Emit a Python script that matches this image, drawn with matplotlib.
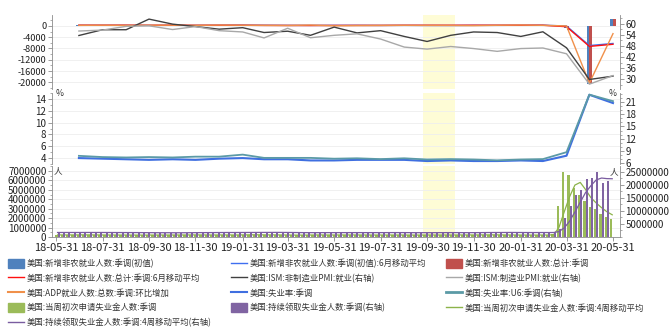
import numpy as np
import pandas as pd
import matplotlib
matplotlib.use("Agg")
import matplotlib.pyplot as plt
import matplotlib.dates as mdates
from matplotlib.patches import Patch
from matplotlib.lines import Line2D
from matplotlib.ticker import MultipleLocator, FixedLocator, FuncFormatter

plt.rcParams["font.family"] = ["Noto Sans CJK SC", "DejaVu Sans"]
plt.rcParams["axes.unicode_minus"] = False

# monthly data, 2018-06 .. 2020-05 (千人 / 指数 / %)
months = pd.date_range("2018-06-30", "2020-05-31", freq="ME")

nfp_initial = [213, 157, 201, 134, 250, 155, 312,
               304, 20, 196, 263, 75, 224, 164, 130, 136, 128, 266, 145,
               225, 273, -701, -20500, 2509]
nfp_total = [248, 178, 282, 108, 277, 176, 182,
             269, 1, 147, 210, 85, 182, 194, 207, 208, 185, 261, 184,
             214, 251, -1373, -20687, 2509]
nfp_initial_ma = [190, 205, 190, 164, 195, 180, 239,
                  257, 212, 173, 160, 178, 187, 154, 173, 143, 131, 177, 180,
                  212, 248, -68, -6976, -6231]
nfp_total_ma = [228, 216, 236, 189, 222, 187, 212,
                209, 151, 139, 119, 147, 159, 154, 194, 203, 200, 218, 210,
                220, 216, -303, -7270, -6517]
adp_change = [177, 219, 163, 230, 227, 179, 271,
              213, 183, 129, 275, 27, 102, 156, 195, 135, 125, 67, 202,
              291, 183, -27, -20236, -2760]
ism_nonmfg_emp = [53.6, 56.7, 56.7, 62.4, 59.7, 58.4, 57.0,
                  57.8, 55.2, 55.9, 53.7, 58.1, 55.0, 56.2, 53.1, 50.4, 53.7, 55.5, 55.2,
                  53.1, 55.6, 47.0, 30.0, 31.8]
ism_mfg_emp = [56.0, 56.5, 58.5, 58.8, 56.8, 58.4, 56.2,
               55.5, 52.3, 57.5, 52.4, 53.7, 54.5, 51.7, 47.4, 46.3, 47.7, 46.6, 45.1,
               46.6, 46.9, 43.8, 27.5, 32.1]
unemp_rate = [4.0, 3.9, 3.8, 3.7, 3.8, 3.7, 3.9,
              4.0, 3.8, 3.8, 3.6, 3.6, 3.7, 3.7, 3.7, 3.5, 3.6, 3.5, 3.5,
              3.6, 3.5, 4.4, 14.7, 13.3]
u6_rate = [7.8, 7.5, 7.4, 7.5, 7.4, 7.6, 7.6,
           8.1, 7.3, 7.3, 7.3, 7.1, 7.2, 7.0, 7.2, 6.9, 7.0, 6.9, 6.7,
           6.9, 7.0, 8.7, 22.8, 21.2]

# weekly data (千人), weeks ending 2018-06-02 .. 2020-05-30
initial_claims = [
    222, 218, 221, 227, 231, 232, 208, 217, 218, 213, 212, 210, 213, 203, 204, 201,
    207, 214, 209, 210, 215, 215, 214, 221, 224, 234, 225, 206, 214, 221, 231,
    216, 213, 199, 253, 234, 239, 225, 229, 223, 229, 221, 211, 202, 196, 192, 230,
    212, 228, 212, 211, 215, 218, 222, 216, 227, 217, 209, 216, 206, 215, 209, 220,
    209, 216, 204, 208, 210, 213, 219, 210, 214, 218, 217, 211, 227, 223, 213, 203,
    252, 234, 222, 224,
    214, 207, 223, 216, 201, 205, 210, 216, 216, 211, 282, 3307, 6867, 6615, 5237,
    4442, 3839, 3169, 2981, 2438, 2123, 1877]
initial_claims_ma = [
    222, 220, 220, 222, 224, 228, 225, 222, 219, 214, 215, 213, 212, 210, 208, 205,
    204, 207, 209, 210, 211, 212, 214, 216, 219, 223, 226, 222, 220, 217, 218,
    221, 221, 215, 220, 225, 231, 238, 232, 227, 227, 226, 221, 216, 208, 200, 205,
    208, 216, 221, 216, 214, 216, 217, 218, 221, 221, 217, 217, 212, 212, 212, 213,
    213, 214, 212, 209, 208, 209, 213, 213, 214, 215, 215, 215, 218, 220, 219, 217,
    223, 226, 228, 233,
    224, 220, 217, 215, 212, 211, 208, 208, 212, 213, 231, 1004, 2667, 4268, 5507,
    5790, 5033, 4172, 3608, 3107, 2678, 2355]
continuing_claims = [
    1740, 1722, 1746, 1755, 1724, 1751, 1749, 1737, 1727, 1726, 1721, 1696, 1707, 1707,
    1709, 1673, 1651, 1659, 1656, 1640, 1636, 1631, 1623, 1656, 1665, 1706, 1672, 1701,
    1688, 1740, 1737,
    1722, 1737, 1713, 1778, 1736, 1762, 1725, 1803, 1756, 1776, 1750, 1756, 1716, 1719,
    1653, 1671, 1676, 1684, 1688, 1682, 1676, 1696, 1686, 1688, 1699, 1686, 1681, 1676,
    1699, 1684, 1684, 1726, 1698, 1676, 1662, 1670, 1650, 1684, 1689, 1640, 1684, 1690,
    1692, 1689, 1693, 1642, 1667, 1722, 1725, 1719, 1728, 1754,
    1735, 1768, 1747, 1703, 1698, 1726, 1724, 1733, 1703, 1701, 1784, 3029, 7446, 11976,
    15976, 18011, 22377, 22548, 24912, 20838, 21487, np.nan]
continuing_claims_ma = [
    1735, 1738, 1740, 1741, 1737, 1744, 1745, 1740, 1741, 1735, 1728, 1718, 1713, 1708,
    1705, 1699, 1685, 1673, 1662, 1652, 1648, 1641, 1633, 1637, 1644, 1663, 1675, 1686,
    1692, 1700, 1717,
    1722, 1734, 1727, 1738, 1741, 1747, 1750, 1757, 1762, 1765, 1771, 1760, 1750, 1735,
    1711, 1690, 1680, 1671, 1680, 1683, 1682, 1686, 1688, 1687, 1692, 1690, 1689, 1683,
    1686, 1685, 1686, 1693, 1698, 1696, 1691, 1677, 1665, 1667, 1673, 1666, 1674, 1677,
    1689, 1689, 1691, 1679, 1673, 1681, 1689, 1708, 1724, 1732,
    1734, 1742, 1751, 1738, 1729, 1719, 1713, 1720, 1722, 1715, 1730, 2054, 3490, 6059,
    9607, 13352, 17085, 19728, 21962, 22669, 22446, 22400]

weeks = pd.date_range(end="2020-05-30", periods=len(initial_claims), freq="W-SAT")

x_ticks = pd.to_datetime(["2018-05-31", "2018-07-31", "2018-09-30", "2018-11-30",
                          "2019-01-31", "2019-03-31", "2019-05-31", "2019-07-31",
                          "2019-09-30", "2019-11-30", "2020-01-31", "2020-03-31",
                          "2020-05-31"])
shade = (pd.Timestamp("2019-09-24"), pd.Timestamp("2019-11-05"))

c_blue = "#4f81bd"
c_red = "#c0504d"
c_green = "#9bbb59"
c_purple = "#8064a2"
c_ma_blue = "#3f6ff0"
c_ma_red = "#ff1010"
c_orange = "#f0904a"
c_dark = "#404040"
c_light = "#a8a8a8"
c_unemp = "#3f6fe0"
c_u6 = "#5b9aa6"
c_green_line = "#8cb34a"
c_purple_line = "#7a5ca0"
c_axis = "#8c8c8c"

mx = mdates.date2num(months)
wx = mdates.date2num(weeks)
x_left = mdates.date2num(pd.Timestamp("2018-05-31")) - 5.3
x_right = mdates.date2num(pd.Timestamp("2020-05-31")) + 9.2

fig = plt.figure(figsize=(6.72, 3.29), dpi=100)

left = 52 / 672
width = 568 / 672
ax1 = fig.add_axes([left, 1 - 89 / 329, width, 74 / 329])
ax2 = fig.add_axes([left, 1 - 164 / 329, width, 71 / 329])
ax3 = fig.add_axes([left, 1 - 237 / 329, width, 71 / 329])
ax1r = ax1.twinx()
ax2r = ax2.twinx()
ax3r = ax3.twinx()

int_fmt = FuncFormatter(lambda v, p: f"{v:.0f}")

for ax in [ax1, ax2, ax3]:
    ax.set_xlim(x_left, x_right)
    ax.axvspan(mdates.date2num(shade[0]), mdates.date2num(shade[1]),
               color="#fefcd6", zorder=0, lw=0)
    ax.yaxis.grid(True, color="#eeeeee", lw=0.6)
    ax.set_axisbelow(True)

for ax in [ax1, ax2, ax3, ax1r, ax2r, ax3r]:
    for s in ["top", "bottom", "left", "right"]:
        ax.spines[s].set_visible(False)
    ax.tick_params(axis="y", which="major", length=3, width=0.6,
                   color=c_axis, labelsize=7, pad=1, labelcolor="#222222")
    ax.tick_params(axis="y", which="minor", length=1.5, width=0.5, color=c_axis)
    ax.tick_params(axis="x", which="both", bottom=False, labelbottom=False)
ax1.tick_params(axis="y", labelsize=6.6)

for ax in [ax1, ax2, ax3]:
    ax.spines["left"].set_visible(True)
    ax.spines["left"].set_color(c_axis)
    ax.spines["left"].set_linewidth(0.6)
for ax in [ax1r, ax2r, ax3r]:
    ax.spines["right"].set_visible(True)
    ax.spines["right"].set_color(c_axis)
    ax.spines["right"].set_linewidth(0.6)

# top panel
ax1.bar(mx - 1.7, nfp_initial, width=3.3, color=c_blue, zorder=2)
ax1.bar(mx + 1.7, nfp_total, width=3.3, color=c_red, zorder=2)
ax1.plot(mx, nfp_initial_ma, color=c_ma_blue, lw=1.0, zorder=3)
ax1.plot(mx, nfp_total_ma, color=c_ma_red, lw=1.0, zorder=3)
ax1.plot(mx, adp_change, color=c_orange, lw=1.0, zorder=4)
ax1r.plot(mx, ism_nonmfg_emp, color=c_dark, lw=1.0)
ax1r.plot(mx, ism_mfg_emp, color=c_light, lw=1.0)

ax1.set_ylim(-22340, 3840)
ax1.yaxis.set_major_locator(MultipleLocator(4000))
ax1.yaxis.set_minor_locator(MultipleLocator(2000))
ax1.yaxis.set_major_formatter(int_fmt)
ax1r.set_ylim(24.9, 64.6)
ax1r.yaxis.set_major_locator(MultipleLocator(6))
ax1r.yaxis.set_minor_locator(MultipleLocator(3))

# middle panel
ax2.plot(mx, unemp_rate, color=c_unemp, lw=1.5)
ax2r.plot(mx, u6_rate, color=c_u6, lw=1.3)
ax2.set_ylim(3.0, 15.0)
ax2.yaxis.set_major_locator(FixedLocator([4, 6, 8, 10, 12, 14]))
ax2.yaxis.set_minor_locator(MultipleLocator(1))
ax2r.set_ylim(5.8, 23.2)
ax2r.yaxis.set_major_locator(MultipleLocator(3))
ax2r.yaxis.set_minor_locator(MultipleLocator(1))
ax2.text(0.006, 1.0, "%", transform=ax2.transAxes, fontsize=6.2,
         ha="left", va="center", color="#333333")
ax2r.text(0.994, 1.0, "%", transform=ax2r.transAxes, fontsize=6.2,
          ha="right", va="center", color="#333333")

# bottom panel
ax3.bar(wx - 1.4, np.array(initial_claims) * 1000, width=2.7, color=c_green, zorder=2)
ax3r.bar(wx + 1.4, np.array(continuing_claims) * 1000, width=2.7, color=c_purple, zorder=2)
ax3.plot(wx, np.array(initial_claims_ma) * 1000, color=c_green_line, lw=0.9, zorder=3)
ax3r.plot(wx, np.array(continuing_claims_ma) * 1000, color=c_purple_line, lw=0.9, zorder=3)
ax3.set_ylim(0, 7.53e6)
ax3.yaxis.set_major_locator(MultipleLocator(1e6))
ax3.yaxis.set_minor_locator(MultipleLocator(5e5))
ax3.yaxis.set_major_formatter(int_fmt)
ax3r.set_ylim(0, 27.3e6)
ax3r.yaxis.set_major_locator(FixedLocator([5e6, 10e6, 15e6, 20e6, 25e6]))
ax3r.yaxis.set_minor_locator(MultipleLocator(2.5e6))
ax3r.yaxis.set_major_formatter(int_fmt)
ax3.text(0.003, 0.93, "人", transform=ax3.transAxes, fontsize=6.2,
         ha="left", va="center", color="#333333")
ax3r.text(0.997, 0.92, "人", transform=ax3r.transAxes, fontsize=6.2,
          ha="right", va="center", color="#333333")

ax3.spines["bottom"].set_visible(True)
ax3.spines["bottom"].set_color(c_axis)
ax3.spines["bottom"].set_linewidth(0.6)
ax3.set_xticks(mdates.date2num(x_ticks))
ax3.xaxis.set_major_formatter(mdates.DateFormatter("%y-%m-%d"))
ax3.tick_params(axis="x", which="major", bottom=True, labelbottom=True,
                length=3, width=0.6, color=c_axis, labelsize=8, pad=1,
                labelcolor="#222222")

# legend (column-major order for 3 columns)
handles = [
    Patch(color=c_blue),
    Line2D([], [], color=c_ma_red, lw=1.0),
    Line2D([], [], color=c_orange, lw=1.5),
    Patch(color=c_green),
    Line2D([], [], color=c_purple_line, lw=1.0),
    Line2D([], [], color=c_ma_blue, lw=1.0),
    Line2D([], [], color=c_dark, lw=1.0),
    Line2D([], [], color=c_unemp, lw=1.5),
    Patch(color=c_purple),
    Patch(color=c_red),
    Line2D([], [], color=c_light, lw=1.0),
    Line2D([], [], color=c_u6, lw=2.0),
    Line2D([], [], color=c_green_line, lw=1.0),
]
labels = [
    "美国:新增非农就业人数:季调(初值)",
    "美国:新增非农就业人数:总计:季调:6月移动平均",
    "美国:ADP就业人数:总数:季调:环比增加",
    "美国:当周初次申请失业金人数:季调",
    "美国:持续领取失业金人数:季调:4周移动平均(右轴)",
    "美国:新增非农就业人数:季调(初值):6月移动平均",
    "美国:ISM:非制造业PMI:就业(右轴)",
    "美国:失业率:季调",
    "美国:持续领取失业金人数:季调(右轴)",
    "美国:新增非农就业人数:总计:季调",
    "美国:ISM:制造业PMI:就业(右轴)",
    "美国:失业率:U6:季调(右轴)",
    "美国:当周初次申请失业金人数:季调:4周移动平均",
]
fig.legend(handles, labels, loc="upper left", bbox_to_anchor=(8 / 672, 1 - 259 / 329),
           ncol=3, frameon=False, fontsize=6.0, handlelength=1.95, handleheight=1.25,
           handletextpad=0.25, columnspacing=2.4, labelspacing=0.66,
           borderpad=0, borderaxespad=0, labelcolor="#333333")

fig.savefig("out.png", dpi=100)
